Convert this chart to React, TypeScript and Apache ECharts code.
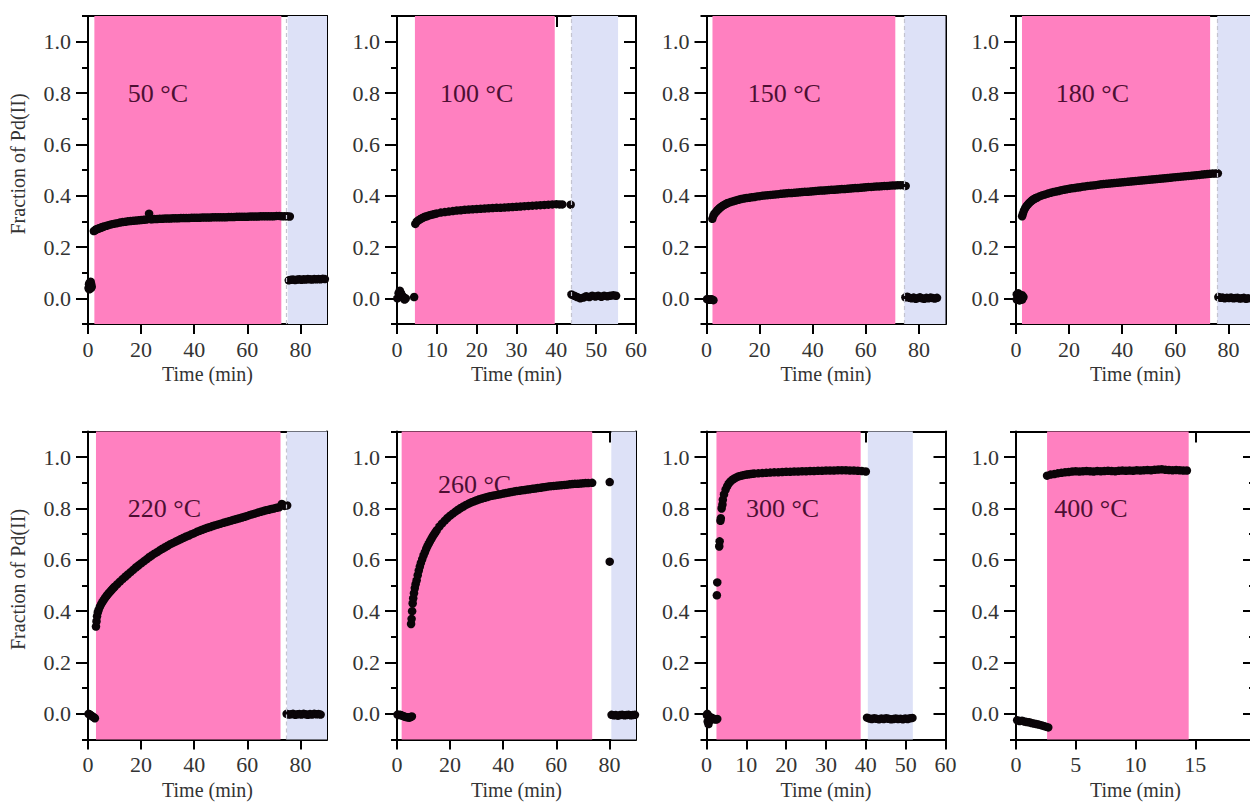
import { useEffect, useRef } from 'react';
import * as echarts from 'echarts';

// ---------- tick labels / axes ----------
const PANEL_TITLES = ['50 °C', '100 °C', '150 °C', '180 °C', '220 °C', '260 °C', '300 °C', '400 °C'];
const X_MAX = [90, 60, 90, 90, 90, 90, 60, 20];
const X_TICKS = [
  [0, 20, 40, 60, 80],
  [0, 10, 20, 30, 40, 50, 60],
  [0, 20, 40, 60, 80],
  [0, 20, 40, 60, 80],
  [0, 20, 40, 60, 80],
  [0, 20, 40, 60, 80],
  [0, 10, 20, 30, 40, 50, 60],
  [0, 5, 10, 15, 20],
];
const X_LABELS = [
  [0, 20, 40, 60, 80],
  [0, 10, 20, 30, 40, 50, 60],
  [0, 20, 40, 60, 80],
  [0, 20, 40, 60, 80],
  [0, 20, 40, 60, 80],
  [0, 20, 40, 60, 80],
  [0, 10, 20, 30, 40, 50, 60],
  [0, 5, 10, 15],
];
const Y_MAJOR = [0, 0.2, 0.4, 0.6, 0.8, 1.0];
const Y_MINOR = [-0.1, 0.1, 0.3, 0.5, 0.7, 0.9, 1.1];

// ---------- shaded phases (minutes) ----------
const PINK_RANGES = [[2.4, 72.8], [4.5, 39.6], [2.25, 71.1], [2.25, 73.1], [3.0, 72.5], [1.75, 73.5], [2.5, 38.7], [2.6, 14.45]];
const BLUE_RANGES: (number[] | null)[] = [[75.2, 90], [43.8, 55.5], [74.5, 90], [75.8, 90], [74.9, 90], [80.7, 90], [40.5, 51.8], null];
const DASH_X: (number | null)[] = [74.6, 43.8, 74.3, 75.6, 74.6, null, null, null];
const LABEL_POS = [[15, 0.8], [10.8, 0.8], [15.5, 0.8], [15, 0.8], [15, 0.8], [15.4, 0.895], [9.9, 0.8], [3.2, 0.8]];

// ---------- data: [time (min), fraction of Pd(II)] ----------
const pre50 = [[0.2, 0.04], [0.4, 0.055], [0.6, 0.06], [0.8, 0.05], [1.0, 0.065], [1.2, 0.055], [1.4, 0.045], [0.5, 0.035], [1.1, 0.04]];
const rx50 = [[2.2, 0.262], [2.6, 0.265], [3, 0.268], [3.5, 0.27], [4, 0.272], [4.5, 0.274], [5, 0.276], [5.5, 0.278], [6, 0.28], [7, 0.283], [8, 0.286], [9, 0.289], [10, 0.291], [11, 0.293], [12, 0.295], [13, 0.297], [14, 0.298], [15, 0.3], [16, 0.301], [17, 0.302], [18, 0.303], [19, 0.304], [20, 0.305], [21, 0.306], [22, 0.307], [23, 0.33], [23.5, 0.309], [24, 0.308], [25, 0.309], [26, 0.309], [27, 0.31], [28, 0.31], [29, 0.311], [30, 0.311], [31, 0.311], [32, 0.312], [33, 0.312], [34, 0.312], [35, 0.313], [36, 0.313], [37, 0.313], [38, 0.313], [39, 0.314], [40, 0.314], [41, 0.314], [42, 0.314], [43, 0.315], [44, 0.315], [45, 0.315], [46, 0.315], [47, 0.316], [48, 0.316], [49, 0.316], [50, 0.316], [51, 0.316], [52, 0.316], [53, 0.317], [54, 0.317], [55, 0.317], [56, 0.318], [57, 0.318], [58, 0.318], [59, 0.318], [60, 0.318], [61, 0.319], [62, 0.319], [63, 0.319], [64, 0.319], [65, 0.32], [66, 0.32], [67, 0.32], [68, 0.32], [69, 0.32], [70, 0.32], [71, 0.321], [72, 0.321], [73, 0.32], [74, 0.32], [75, 0.32], [76, 0.319]];
const post50 = [[75.6, 0.07], [76.4, 0.072], [77.2, 0.073], [78, 0.071], [78.8, 0.073], [79.6, 0.074], [80.4, 0.072], [81.2, 0.074], [82, 0.073], [82.8, 0.075], [83.6, 0.074], [84.4, 0.073], [85.2, 0.075], [86, 0.074], [86.8, 0.075], [87.6, 0.074], [88.4, 0.076], [89.2, 0.075]];

const pre100 = [[0.1, 0.0], [0.4, 0.02], [0.7, 0.03], [1.0, 0.02], [1.3, 0.01], [1.6, 0.005], [1.9, -0.005], [2.2, 0.0], [4.3, 0.005]];
const rx100 = [[4.6, 0.29], [5, 0.3], [5.5, 0.305], [6, 0.31], [6.5, 0.314], [7, 0.318], [7.5, 0.32], [8, 0.323], [8.5, 0.325], [9, 0.327], [9.5, 0.329], [10, 0.331], [11, 0.334], [12, 0.336], [13, 0.338], [14, 0.34], [15, 0.342], [16, 0.343], [17, 0.345], [18, 0.346], [19, 0.347], [20, 0.348], [21, 0.349], [22, 0.35], [23, 0.351], [24, 0.352], [25, 0.353], [26, 0.353], [27, 0.354], [28, 0.355], [29, 0.356], [30, 0.357], [31, 0.358], [32, 0.359], [33, 0.36], [34, 0.361], [35, 0.362], [36, 0.363], [37, 0.364], [38, 0.365], [39, 0.366], [40, 0.367], [40.8, 0.366], [41.5, 0.366], [43.6, 0.365]];
const post100 = [[43.8, 0.015], [44.5, 0.01], [45.2, 0.005], [46, 0.0], [46.8, 0.003], [47.5, 0.008], [48.3, 0.005], [49, 0.01], [49.8, 0.007], [50.5, 0.01], [51.3, 0.006], [52, 0.01], [52.8, 0.008], [53.5, 0.01], [54.3, 0.012], [55, 0.01]];

const pre150 = [[0.2, -0.003], [0.6, -0.005], [1.0, -0.006], [1.4, -0.005], [1.8, -0.004], [2.2, -0.005], [2.6, -0.007]];
const rx150 = [[2.2, 0.31], [2.6, 0.322], [3, 0.33], [3.5, 0.336], [4, 0.342], [4.5, 0.347], [5, 0.352], [5.5, 0.356], [6, 0.36], [6.5, 0.363], [7, 0.366], [7.5, 0.369], [8, 0.371], [9, 0.375], [10, 0.378], [11, 0.381], [12, 0.384], [13, 0.387], [14, 0.389], [15, 0.391], [16, 0.392], [17, 0.394], [18, 0.395], [19, 0.397], [20, 0.398], [21, 0.4], [22, 0.401], [23, 0.402], [24, 0.403], [25, 0.404], [26, 0.405], [27, 0.406], [28, 0.407], [29, 0.408], [30, 0.409], [31, 0.41], [32, 0.41], [33, 0.411], [34, 0.412], [35, 0.413], [36, 0.414], [37, 0.415], [38, 0.415], [39, 0.416], [40, 0.417], [41, 0.418], [42, 0.419], [43, 0.42], [44, 0.42], [45, 0.421], [46, 0.422], [47, 0.423], [48, 0.423], [49, 0.424], [50, 0.425], [51, 0.426], [52, 0.426], [53, 0.427], [54, 0.428], [55, 0.429], [56, 0.43], [57, 0.43], [58, 0.431], [59, 0.432], [60, 0.433], [61, 0.434], [62, 0.434], [63, 0.435], [64, 0.436], [65, 0.436], [66, 0.437], [67, 0.438], [68, 0.438], [69, 0.439], [70, 0.44], [71, 0.44], [72, 0.441], [73, 0.441], [74, 0.441], [75, 0.438]];
const post150 = [[74.9, 0.004], [75.6, 0.006], [76.4, 0.002], [77.2, 0.0], [78, 0.003], [78.8, -0.002], [79.6, 0.001], [80.4, 0.004], [81.2, 0.0], [82, -0.002], [82.8, 0.002], [83.6, 0.0], [84.4, 0.003], [85.2, 0.001], [86, -0.001], [86.8, 0.002]];

const pre180 = [[0.3, 0.015], [0.3, -0.005], [0.8, 0.02], [0.8, 0.0], [1.3, 0.015], [1.3, -0.008], [1.8, 0.01], [1.8, -0.005], [2.3, 0.012], [2.3, -0.005], [2.8, 0.005]];
const rx180 = [[2.3, 0.32], [2.6, 0.33], [3, 0.342], [3.5, 0.352], [4, 0.36], [4.5, 0.366], [5, 0.372], [5.5, 0.377], [6, 0.381], [6.5, 0.385], [7, 0.388], [7.5, 0.391], [8, 0.393], [9, 0.398], [10, 0.402], [11, 0.405], [12, 0.408], [13, 0.411], [14, 0.414], [15, 0.416], [16, 0.418], [17, 0.421], [18, 0.423], [19, 0.425], [20, 0.427], [21, 0.429], [22, 0.43], [23, 0.432], [24, 0.433], [25, 0.435], [26, 0.436], [27, 0.438], [28, 0.439], [29, 0.44], [30, 0.441], [31, 0.443], [32, 0.444], [33, 0.445], [34, 0.446], [35, 0.447], [36, 0.448], [37, 0.449], [38, 0.45], [39, 0.451], [40, 0.452], [41, 0.453], [42, 0.454], [43, 0.455], [44, 0.456], [45, 0.457], [46, 0.458], [47, 0.459], [48, 0.46], [49, 0.461], [50, 0.462], [51, 0.463], [52, 0.464], [53, 0.465], [54, 0.466], [55, 0.467], [56, 0.468], [57, 0.469], [58, 0.47], [59, 0.471], [60, 0.472], [61, 0.473], [62, 0.474], [63, 0.475], [64, 0.476], [65, 0.477], [66, 0.478], [67, 0.479], [68, 0.48], [69, 0.481], [70, 0.482], [71, 0.483], [72, 0.484], [73, 0.485], [74, 0.486], [75, 0.486], [76, 0.487]];
const post180 = [[76.2, 0.005], [77, 0.002], [77.8, 0.003], [78.6, 0.0], [79.4, 0.002], [80.2, 0.001], [81, 0.003], [81.8, 0.0], [82.6, 0.001], [83.4, 0.002], [84.2, -0.001], [85, 0.0], [85.8, 0.002], [86.6, -0.002], [87.4, 0.0]];

const pre220 = [[0.2, 0.0], [0.6, -0.002], [1.0, -0.005], [1.4, -0.008], [1.8, -0.011], [2.2, -0.014], [2.6, -0.017]];
const rx220 = [[3, 0.34], [3.2, 0.36], [3.4, 0.38], [3.7, 0.395], [4, 0.405], [4.5, 0.418], [5, 0.428], [5.5, 0.437], [6, 0.445], [6.5, 0.453], [7, 0.46], [7.5, 0.466], [8, 0.472], [8.5, 0.478], [9, 0.484], [9.5, 0.49], [10, 0.495], [11, 0.505], [12, 0.515], [13, 0.525], [14, 0.534], [15, 0.543], [16, 0.552], [17, 0.561], [18, 0.57], [19, 0.578], [20, 0.586], [21, 0.594], [22, 0.602], [23, 0.61], [24, 0.617], [25, 0.624], [26, 0.63], [27, 0.637], [28, 0.643], [29, 0.649], [30, 0.655], [31, 0.661], [32, 0.666], [33, 0.671], [34, 0.676], [35, 0.681], [36, 0.686], [37, 0.691], [38, 0.695], [39, 0.7], [40, 0.704], [41, 0.709], [42, 0.713], [43, 0.717], [44, 0.721], [45, 0.725], [46, 0.728], [47, 0.732], [48, 0.735], [49, 0.738], [50, 0.741], [51, 0.744], [52, 0.747], [53, 0.75], [54, 0.753], [55, 0.756], [56, 0.759], [57, 0.762], [58, 0.765], [59, 0.768], [60, 0.771], [61, 0.775], [62, 0.778], [63, 0.781], [64, 0.784], [65, 0.787], [66, 0.79], [67, 0.793], [68, 0.795], [69, 0.798], [70, 0.8], [71, 0.803], [72, 0.805], [73, 0.818], [74, 0.81], [75, 0.812]];
const post220 = [[74.8, 0.0], [75.6, -0.003], [76.4, -0.002], [77.2, 0.0], [78, -0.004], [78.8, -0.002], [79.6, -0.001], [80.4, -0.003], [81.2, 0.0], [82, -0.002], [82.8, -0.004], [83.6, -0.001], [84.4, -0.003], [85.2, 0.0], [86, -0.002], [86.8, -0.001], [87.6, -0.003]];

const pre260 = [[0.2, -0.003], [0.7, -0.005], [1.2, -0.004], [1.7, -0.006], [2.2, -0.008], [2.7, -0.01], [3.2, -0.012], [3.7, -0.013], [4.2, -0.014], [4.7, -0.015], [5.2, -0.012], [5.6, -0.01]];
const rx260 = [[5.3, 0.35], [5.5, 0.37], [5.7, 0.4], [5.9, 0.43], [6.1, 0.45], [6.4, 0.47], [6.7, 0.49], [7, 0.505], [7.4, 0.52], [7.8, 0.54], [8.2, 0.558], [8.6, 0.574], [9, 0.588], [9.5, 0.603], [10, 0.617], [10.5, 0.63], [11, 0.643], [11.5, 0.654], [12, 0.664], [12.5, 0.674], [13, 0.683], [13.5, 0.692], [14, 0.7], [14.5, 0.708], [15, 0.716], [16, 0.73], [17, 0.742], [18, 0.753], [19, 0.763], [20, 0.772], [21, 0.78], [22, 0.788], [23, 0.795], [24, 0.802], [25, 0.808], [26, 0.814], [27, 0.819], [28, 0.824], [29, 0.828], [30, 0.832], [31, 0.836], [32, 0.839], [33, 0.842], [34, 0.845], [35, 0.848], [36, 0.85], [37, 0.852], [38, 0.854], [39, 0.856], [40, 0.858], [41, 0.86], [42, 0.862], [43, 0.864], [44, 0.866], [45, 0.868], [46, 0.869], [47, 0.871], [48, 0.872], [49, 0.874], [50, 0.875], [51, 0.877], [52, 0.878], [53, 0.88], [54, 0.881], [55, 0.883], [56, 0.884], [57, 0.886], [58, 0.887], [59, 0.888], [60, 0.889], [61, 0.89], [62, 0.891], [63, 0.892], [64, 0.893], [65, 0.894], [66, 0.895], [67, 0.896], [68, 0.896], [69, 0.897], [70, 0.898], [71, 0.899], [72, 0.899], [73.5, 0.9]];
const iso260 = [[80.1, 0.903], [80.1, 0.593]];
const post260 = [[80.8, -0.004], [81.6, -0.006], [82.4, -0.005], [83.2, -0.007], [84, -0.005], [84.8, -0.004], [85.6, -0.006], [86.4, -0.005], [87.2, -0.004], [88, -0.006], [88.8, -0.005], [89.6, -0.004]];

const pre300 = [[0.1, -0.005], [0.2, 0.0], [0.3, -0.03], [0.5, -0.04], [0.7, -0.01], [0.9, -0.025], [1.1, -0.02], [1.3, -0.015], [1.5, -0.02], [1.8, -0.02], [2.1, -0.02], [2.4, -0.022], [2.7, -0.02]];
const rx300 = [[2.6, 0.462], [2.7, 0.512], [3.2, 0.652], [3.3, 0.672], [3.5, 0.752], [3.6, 0.762], [3.8, 0.8], [4.0, 0.815], [4.1, 0.834], [4.4, 0.855], [4.8, 0.874], [5.2, 0.887], [5.6, 0.898], [6.0, 0.905], [6.5, 0.912], [7, 0.917], [7.5, 0.921], [8, 0.925], [8.5, 0.927], [9, 0.929], [9.5, 0.931], [10, 0.932], [10.5, 0.933], [11, 0.934], [11.5, 0.935], [12, 0.936], [13, 0.937], [14, 0.938], [15, 0.939], [16, 0.94], [17, 0.941], [18, 0.941], [19, 0.942], [20, 0.943], [21, 0.943], [22, 0.944], [23, 0.944], [24, 0.945], [25, 0.945], [26, 0.946], [27, 0.946], [28, 0.947], [29, 0.947], [30, 0.948], [31, 0.948], [32, 0.948], [33, 0.949], [34, 0.949], [35, 0.949], [36, 0.948], [37, 0.948], [38, 0.947], [39, 0.946], [40, 0.944]];
const post300 = [[40.3, -0.015], [40.9, -0.018], [41.5, -0.02], [42.1, -0.017], [42.7, -0.019], [43.3, -0.021], [43.9, -0.018], [44.5, -0.02], [45.1, -0.017], [45.7, -0.019], [46.3, -0.021], [46.9, -0.02], [47.5, -0.018], [48.1, -0.02], [48.7, -0.019], [49.3, -0.021], [49.9, -0.018], [50.5, -0.02], [51.1, -0.017], [51.7, -0.016]];

const pre400 = [[0.1, -0.025], [0.3, -0.028], [0.5, -0.027], [0.7, -0.03], [0.9, -0.032], [1.1, -0.033], [1.3, -0.036], [1.5, -0.038], [1.7, -0.04], [1.9, -0.042], [2.1, -0.044], [2.3, -0.047], [2.5, -0.05], [2.7, -0.053]];
const rx400 = [[2.6, 0.928], [2.9, 0.932], [3.2, 0.934], [3.5, 0.937], [3.8, 0.939], [4.1, 0.941], [4.4, 0.942], [4.7, 0.944], [5.0, 0.945], [5.3, 0.944], [5.6, 0.945], [5.9, 0.946], [6.2, 0.945], [6.5, 0.944], [6.8, 0.946], [7.1, 0.945], [7.4, 0.946], [7.7, 0.947], [8.0, 0.946], [8.3, 0.945], [8.6, 0.947], [8.9, 0.948], [9.2, 0.947], [9.5, 0.948], [9.8, 0.947], [10.1, 0.949], [10.4, 0.948], [10.7, 0.949], [11.0, 0.95], [11.3, 0.949], [11.6, 0.951], [11.9, 0.952], [12.2, 0.953], [12.5, 0.951], [12.8, 0.95], [13.1, 0.949], [13.4, 0.95], [13.7, 0.949], [14.0, 0.948], [14.3, 0.948]];

const PANEL_DATA = [
  [pre50, rx50, post50],
  [pre100, rx100, post100],
  [pre150, rx150, post150],
  [pre180, rx180, post180],
  [pre220, rx220, post220],
  [pre260, rx260, iso260, post260],
  [pre300, rx300, post300],
  [pre400, rx400],
];

const GRID_LEFT = [88, 397, 706.5, 1016];
const ROW_TOP = [16, 431.5];
const GRID_W = 239;
const GRID_H = 308;
const FONT = "'Liberation Serif', 'Times New Roman', serif";
const PINK = '#ff80c0';
const BLUE = '#dde1f7';

export default function App() {
  const ref = useRef<HTMLDivElement>(null);
  useEffect(() => {
    if (!ref.current) return;
    const chart = echarts.init(ref.current, null, { renderer: 'svg' });
    const grid: any[] = [];
    const xAxis: any[] = [];
    const yAxis: any[] = [];
    const series: any[] = [];
    const firstSeries: number[] = [];
    const lineStyle = { color: '#000', width: 2 };
    const labelStyle = { fontFamily: FONT, fontSize: 22, color: '#333' };
    for (let i = 0; i < 8; i++) {
      const row = Math.floor(i / 4);
      const col = i % 4;
      grid.push({ left: GRID_LEFT[col], top: ROW_TOP[row], width: GRID_W, height: GRID_H, containLabel: false, outerBoundsMode: 'none' });
      xAxis.push({
        type: 'value', gridIndex: i, min: 0, max: X_MAX[i], position: 'bottom',
        axisLine: { show: true, onZero: false, lineStyle },
        axisTick: { show: true, inside: false, length: 10, customValues: X_TICKS[i], lineStyle },
        axisLabel: { show: true, customValues: X_LABELS[i], margin: 14, ...labelStyle },
        splitLine: { show: false },
        name: 'Time (min)', nameLocation: 'middle', nameGap: 40,
        nameTextStyle: { fontFamily: FONT, fontSize: 20, color: '#333' },
      });
      xAxis.push({
        type: 'value', gridIndex: i, min: 0, max: X_MAX[i], position: 'top',
        axisLine: { show: true, onZero: false, lineStyle },
        axisTick: { show: true, inside: true, length: 11, customValues: X_TICKS[i], lineStyle },
        axisLabel: { show: false }, splitLine: { show: false },
      });
      const yBase = { type: 'value', gridIndex: i, min: -0.1, max: 1.1, splitLine: { show: false } };
      yAxis.push({
        ...yBase, position: 'left',
        axisLine: { show: true, onZero: false, lineStyle },
        axisTick: { show: true, inside: false, length: 12, customValues: Y_MAJOR, lineStyle },
        axisLabel: { show: true, customValues: Y_MAJOR, margin: 17, formatter: (v: number) => v.toFixed(1), ...labelStyle },
      });
      yAxis.push({
        ...yBase, position: 'left',
        axisLine: { show: false, onZero: false },
        axisTick: { show: true, inside: false, length: 6, customValues: Y_MINOR, lineStyle },
        axisLabel: { show: false },
      });
      yAxis.push({
        ...yBase, position: 'right',
        axisLine: { show: true, onZero: false, lineStyle },
        axisTick: { show: true, inside: true, length: 12, customValues: Y_MAJOR, lineStyle },
        axisLabel: { show: false },
      });
      yAxis.push({
        ...yBase, position: 'right',
        axisLine: { show: false, onZero: false },
        axisTick: { show: true, inside: true, length: 6, customValues: Y_MINOR, lineStyle },
        axisLabel: { show: false },
      });

      const areas: any[] = [[{ xAxis: PINK_RANGES[i][0], itemStyle: { color: PINK } }, { xAxis: PINK_RANGES[i][1] }]];
      const blue = BLUE_RANGES[i];
      if (blue) areas.push([{ xAxis: blue[0], itemStyle: { color: BLUE } }, { xAxis: blue[1] }]);
      const dash = DASH_X[i];
      firstSeries.push(series.length);
      PANEL_DATA[i].forEach((d, k) => {
        const s: any = {
          type: 'scatter', xAxisIndex: 2 * i, yAxisIndex: 4 * i, data: d,
          symbol: 'circle', symbolSize: 8.5, z: 3,
          itemStyle: { color: '#0a0508', opacity: 1 },
          silent: true,
        };
        if (k === 0) {
          s.markArea = { silent: true, z: 1, itemStyle: { opacity: 1 }, data: areas };
          if (dash !== null) {
            s.markLine = {
              silent: true, symbol: ['none', 'none'], label: { show: false },
              lineStyle: { color: '#c4c4d0', width: 1.2, type: [4, 3] },
              data: [{ xAxis: dash }],
            };
          }
        }
        series.push(s);
      });
    }
    chart.setOption({ animation: false, backgroundColor: '#fff', grid, xAxis, yAxis, series });

    const graphic: any[] = [];
    for (let i = 0; i < 8; i++) {
      const p = chart.convertToPixel({ seriesIndex: firstSeries[i] }, LABEL_POS[i]) as number[];
      graphic.push({
        type: 'text', x: p[0], y: p[1], z: 2,
        style: { text: PANEL_TITLES[i], fontFamily: FONT, fontSize: 26, fill: '#4d0f33', align: 'left', verticalAlign: 'middle' },
      });
    }
    for (let r = 0; r < 2; r++) {
      graphic.push({
        type: 'text', x: 18, y: ROW_TOP[r] + GRID_H / 2 - 6, rotation: Math.PI / 2, z: 2,
        style: { text: 'Fraction of Pd(II)', fontFamily: FONT, fontSize: 20, fill: '#333', align: 'center', verticalAlign: 'middle' },
      });
    }
    chart.setOption({ graphic });
    return () => chart.dispose();
  }, []);
  return <div ref={ref} style={{ position: 'fixed', left: 0, top: 0, width: 1250, height: 806 }} />;
}
